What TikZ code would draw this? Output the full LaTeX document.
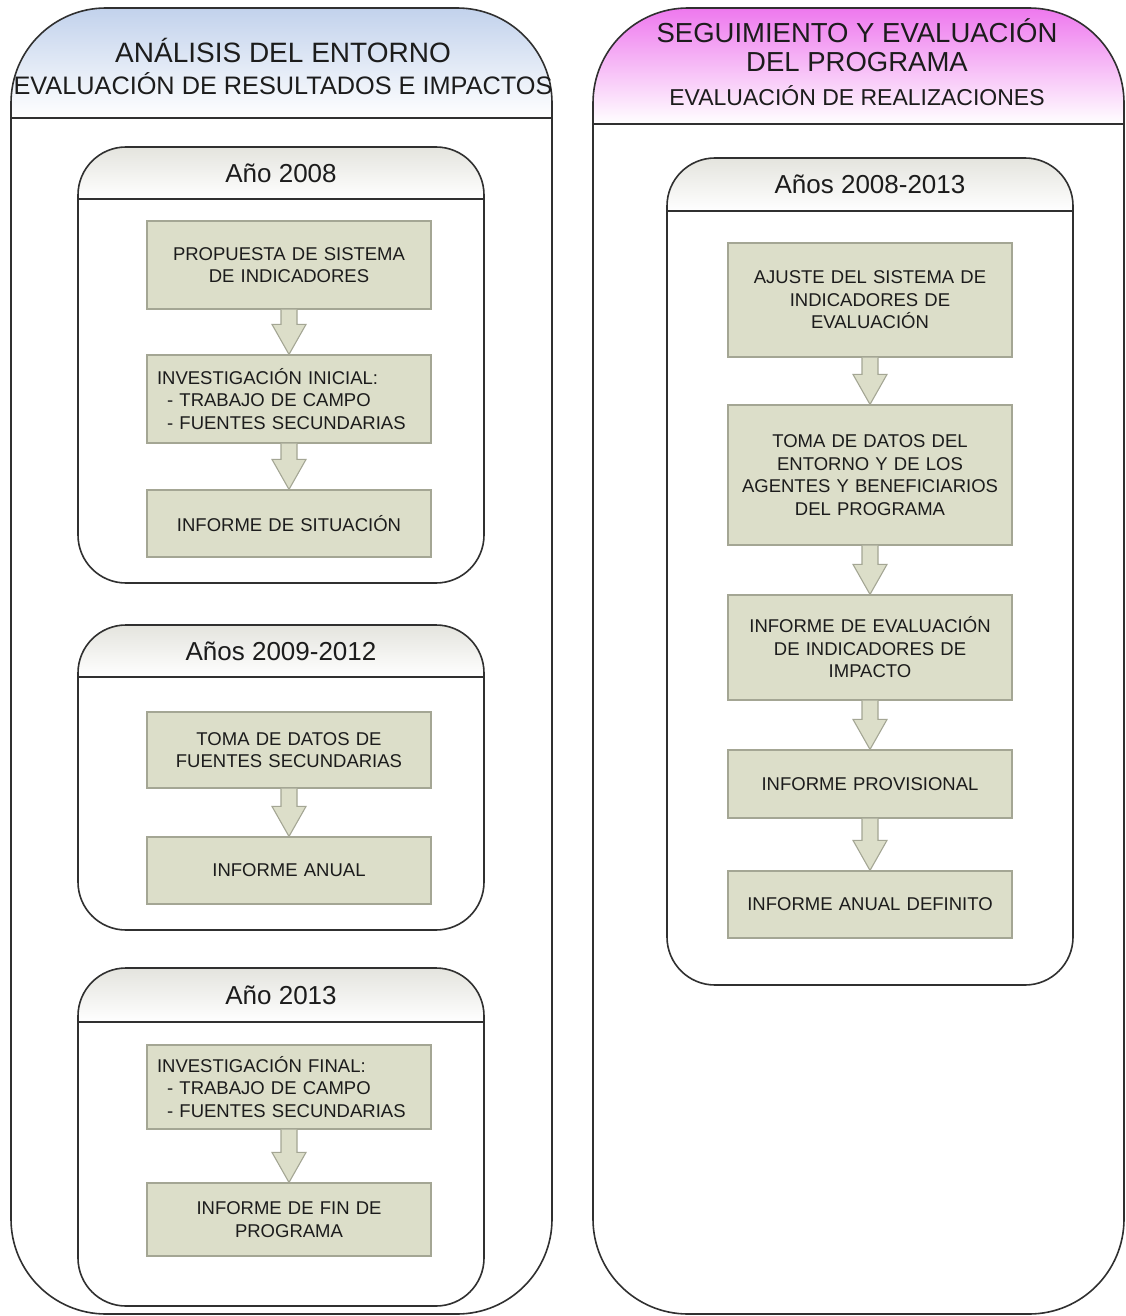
\documentclass[tikz,border=0pt]{standalone}
\usepackage{fontspec}
\setmainfont{Liberation Sans}
\usetikzlibrary{calc}
\definecolor{boxfill}{HTML}{DCDEC9}
\definecolor{boxline}{HTML}{A4A694}
\definecolor{framec}{HTML}{303030}
\definecolor{txt}{HTML}{1C1C1C}
\definecolor{bluetop}{HTML}{C2D2EC}
\definecolor{magtop}{HTML}{EE78EE}
\definecolor{graytop}{HTML}{E4E4DE}
\tikzset{
  frameline/.style={draw=framec, line width=1.6pt},
  greenbox/.style={draw=boxline, fill=boxfill, line width=1.2pt, minimum width=284pt,
    text width=264pt, align=center, inner sep=0pt, text=txt,
    font=\fontsize{18.5}{22.5}\selectfont},
  listbox/.style={greenbox, align=left},
  yeartitle/.style={text=txt, inner sep=0pt, font=\fontsize{26}{30}\selectfont},
  bigtitle/.style={text=txt, inner sep=0pt, font=\fontsize{28}{32}\selectfont},
  subtitle/.style={text=txt, inner sep=0pt, font=\fontsize{25.3}{28}\selectfont},
  rtitle/.style={text=txt, inner sep=0pt, font=\fontsize{27.5}{30}\selectfont},
  rsub/.style={text=txt, inner sep=0pt, font=\fontsize{23}{26}\selectfont},
  arrowshape/.style={draw=boxline, fill=boxfill, line width=1.1pt, line join=miter},
}
\newcommand\blockarrow[2]{%
  \filldraw[arrowshape] let \p1=(#1.south), \p2=(#2.north) in
    (\x1-8pt,\y1) -- (\x1-8pt,\y2+30pt) -- (\x1-17pt,\y2+30pt) -- (\x1,\y2)
    -- (\x1+17pt,\y2+30pt) -- (\x1+8pt,\y2+30pt) -- (\x1+8pt,\y1);
}
% #1 x1, #2 x2, #3 top, #4 header line, #5 bottom, #6 radius, #7 top colour
\newcommand\panel[7]{%
  \begin{scope}
    \clip[rounded corners=#6pt] (#1,#3) rectangle (#2,#5);
    \shade[top color=#7, bottom color=white] (#1,#3) rectangle (#2,#4);
  \end{scope}
  \draw[frameline, rounded corners=#6pt] (#1,#3) rectangle (#2,#5);
  \draw[frameline] (#1,#4) -- (#2,#4);
}
\begin{document}
\begin{tikzpicture}[x=1pt, y=-1pt]
\useasboundingbox (0,0) rectangle (1126,1316);
\fill[white] (0,0) rectangle (1126,1316);

% outer panels
\panel{11}{552}{8}{118}{1314}{95}{bluetop}
\panel{593}{1124}{8}{124}{1314}{95}{magtop}

% inner panels
\panel{78}{484}{147}{199}{583}{48}{graytop}
\panel{78}{484}{625}{677}{930}{48}{graytop}
\panel{78}{484}{968}{1022}{1306}{48}{graytop}
\panel{667}{1073}{158}{211}{985}{48}{graytop}

% headers
\node[bigtitle] (lt1) at (283,50) {ANÁLISIS DEL ENTORNO};
\node[subtitle] (lt2) at (283,84) {EVALUACIÓN DE RESULTADOS E IMPACTOS};
\node[rtitle] (rt1) at (857,31) {SEGUIMIENTO Y EVALUACIÓN};
\node[rtitle] (rt2) at (857,62) {DEL PROGRAMA};
\node[rsub] (rt3) at (857,96) {EVALUACIÓN DE REALIZACIONES};

\node[yeartitle] (y1) at (281,173) {Año 2008};
\node[yeartitle] (y2) at (281,651) {Años 2009-2012};
\node[yeartitle] (y3) at (281,995) {Año 2013};
\node[yeartitle] (y4) at (870,184) {Años 2008-2013};

% left boxes
\node[greenbox, minimum height=88pt] (g1) at (289,265) {PROPUESTA DE SISTEMA\\DE INDICADORES};
\node[listbox, minimum height=88pt] (g2) at (289,399) {INVESTIGACIÓN INICIAL:\\\hspace*{0.55em}- TRABAJO DE CAMPO\\\hspace*{0.55em}- FUENTES SECUNDARIAS};
\node[greenbox, minimum height=67pt] (g3) at (289,523.5) {INFORME DE SITUACIÓN};
\node[greenbox, minimum height=76pt] (g4) at (289,750) {TOMA DE DATOS DE\\FUENTES SECUNDARIAS};
\node[greenbox, minimum height=67pt] (g5) at (289,870.5) {INFORME ANUAL};
\node[listbox, minimum height=84pt] (g6) at (289,1087) {INVESTIGACIÓN FINAL:\\\hspace*{0.55em}- TRABAJO DE CAMPO\\\hspace*{0.55em}- FUENTES SECUNDARIAS};
\node[greenbox, minimum height=73pt] (g7) at (289,1219.5) {INFORME DE FIN DE\\PROGRAMA};

% right boxes
\node[greenbox, minimum height=114pt] (r1) at (870,300) {AJUSTE DEL SISTEMA DE\\INDICADORES DE\\EVALUACIÓN};
\node[greenbox, minimum height=140pt] (r2) at (870,475) {TOMA DE DATOS DEL\\ENTORNO Y DE LOS\\AGENTES Y BENEFICIARIOS\\DEL PROGRAMA};
\node[greenbox, minimum height=105pt] (r3) at (870,647.5) {INFORME DE EVALUACIÓN\\DE INDICADORES DE\\IMPACTO};
\node[greenbox, minimum height=68pt] (r4) at (870,784) {INFORME PROVISIONAL};
\node[greenbox, minimum height=67pt] (r5) at (870,904.5) {INFORME ANUAL DEFINITO};

% arrows
\blockarrow{g1}{g2}
\blockarrow{g2}{g3}
\blockarrow{g4}{g5}
\blockarrow{g6}{g7}
\blockarrow{r1}{r2}
\blockarrow{r2}{r3}
\blockarrow{r3}{r4}
\blockarrow{r4}{r5}
\end{tikzpicture}
\end{document}
